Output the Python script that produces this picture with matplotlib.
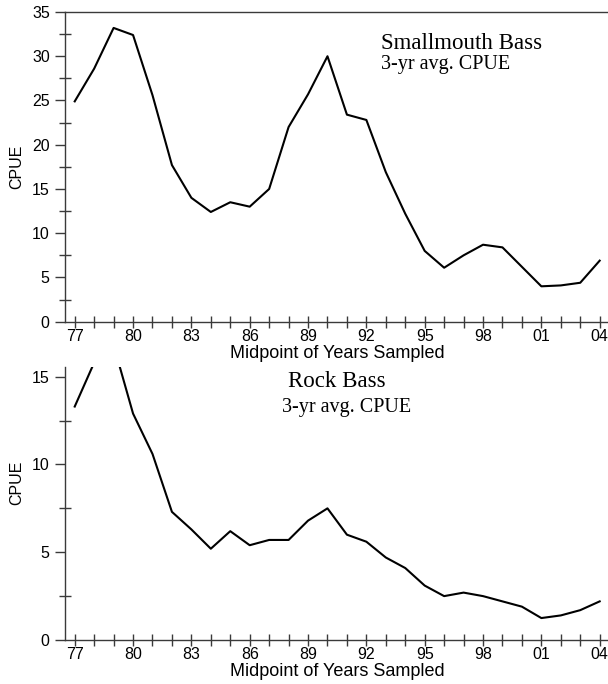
import matplotlib
matplotlib.use("Agg")
import matplotlib.pyplot as plt
from matplotlib.ticker import MultipleLocator

# midpoint year of each 3-yr window
years = list(range(1977, 2005))

smallmouth_cpue = [24.9, 28.6, 33.2, 32.4, 25.6, 17.7, 14.0, 12.4, 13.5, 13.0,
                   15.0, 22.0, 25.7, 30.0, 23.4, 22.8, 16.9, 12.2, 8.0, 6.1,
                   7.5, 8.7, 8.4, 6.2, 4.0, 4.1, 4.4, 6.9]

rock_cpue = [13.3, 15.8, 16.8, 12.9, 10.6, 7.3, 6.3, 5.2, 6.2, 5.4,
             5.7, 5.7, 6.8, 7.5, 6.0, 5.6, 4.7, 4.1, 3.1, 2.5,
             2.7, 2.5, 2.2, 1.9, 1.25, 1.4, 1.7, 2.2]

species = ["Smallmouth Bass", "Rock Bass"]
subtitle = "3-yr avg. CPUE"

SANS = "Liberation Sans"
SERIF = "Liberation Serif"
SPINE = "#3a3a3a"


def style_axes(ax, ymax, ystep):
    ax.set_xlim(1976.5, 2004.5)
    ax.set_ylim(0, ymax)
    ax.xaxis.set_major_locator(MultipleLocator(3))
    ax.xaxis.set_minor_locator(MultipleLocator(1))
    ax.set_xticks(years[::3])
    ax.set_xticklabels([f"{y % 100:02d}" for y in years[::3]])
    ax.yaxis.set_major_locator(MultipleLocator(ystep))
    ax.yaxis.set_minor_locator(MultipleLocator(ystep / 2))
    ax.tick_params(axis="x", which="both", direction="inout", length=8,
                   width=1, color=SPINE, pad=1, labelsize=11.5)
    ax.tick_params(axis="y", which="major", direction="out", length=7,
                   width=1, color=SPINE, pad=4, labelsize=11.5)
    ax.tick_params(axis="y", which="minor", direction="inout", length=8,
                   width=1, color=SPINE)
    for lab in ax.get_xticklabels() + ax.get_yticklabels():
        lab.set_family(SANS)
    for s in ax.spines.values():
        s.set_linewidth(1)
        s.set_color(SPINE)
    ax.set_xlabel("Midpoint of Years Sampled", family=SANS, fontsize=13,
                  labelpad=1)
    ax.set_ylabel("CPUE", family=SANS, fontsize=11.5)


fig = plt.figure(figsize=(6.08, 6.84), dpi=100)
left, width = 65 / 608, 544.4 / 608

ax1 = fig.add_axes([left, 1 - 321.7 / 684, width, 309.7 / 684])
ax1.plot(years, smallmouth_cpue, color="black", lw=1.5)
style_axes(ax1, 35, 5)
ax1.yaxis.set_label_coords(-0.075, 0.5)
ax1.text(0.728, 0.882, species[0], transform=ax1.transAxes, ha="center",
         va="baseline", family=SERIF, fontsize=16.5)
ax1.text(0.58, 0.815, subtitle, transform=ax1.transAxes, ha="left",
         va="baseline", family=SERIF, fontsize=14.5)

ax2 = fig.add_axes([left, 1 - 640 / 684, width, 273.3 / 684])
ax2.plot(years, rock_cpue, color="black", lw=1.5)
style_axes(ax2, 15.57, 5)
ax2.spines["top"].set_visible(False)
ax2.yaxis.set_label_coords(-0.075, 0.574)
ax2.text(0.5, 0.927, species[1], transform=ax2.transAxes, ha="center",
         va="baseline", family=SERIF, fontsize=16.5)
ax2.text(0.398, 0.835, subtitle, transform=ax2.transAxes, ha="left",
         va="baseline", family=SERIF, fontsize=14.5)

fig.savefig("out.png", dpi=100)
